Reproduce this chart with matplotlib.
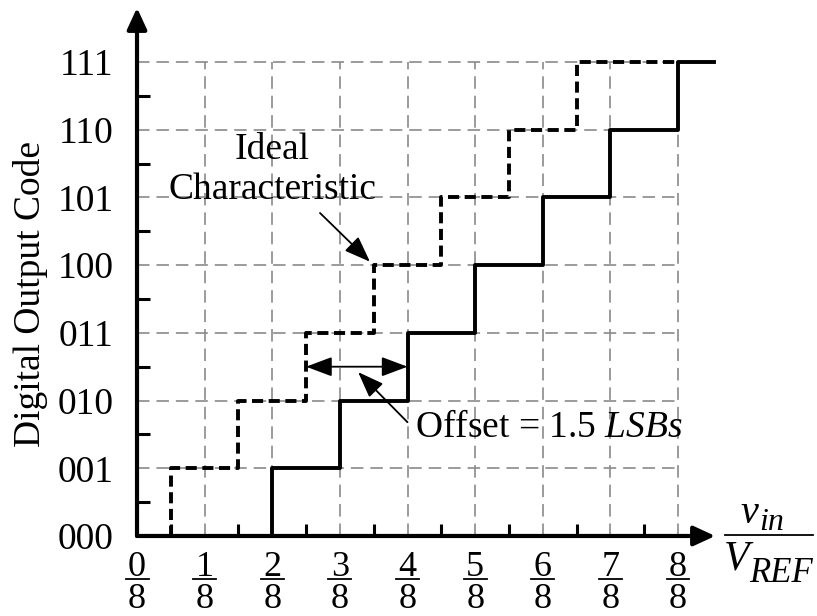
import matplotlib
matplotlib.use('Agg')
import matplotlib.pyplot as plt
import numpy as np

plt.rcParams['font.family'] = ['Liberation Serif', 'DejaVu Serif']
plt.rcParams['mathtext.fontset'] = 'custom'
plt.rcParams['mathtext.rm'] = 'Liberation Serif'
plt.rcParams['mathtext.it'] = 'Liberation Serif:italic'
plt.rcParams['mathtext.fallback'] = 'stix'
plt.rcParams['lines.scale_dashes'] = False

# 3-bit ADC transfer characteristic (x in units of VREF/8)
codes = ['000', '001', '010', '011', '100', '101', '110', '111']
ideal_steps = [0.5, 1.5, 2.5, 3.5, 4.5, 5.5, 6.5]   # ideal transition points
actual_steps = [2, 3, 4, 5, 6, 7, 8]               # with 1.5 LSB offset
x_full = 8                                         # full scale, 8/8
x_end = 8.53                                       # where the actual curve is cut off
frac_num = ['0', '1', '2', '3', '4', '5', '6', '7', '8']

levels = list(range(len(codes)))

fig = plt.figure(figsize=(8.17, 6.16), dpi=100)
ax = fig.add_axes([0.1677, 0.1299, 0.7201, 0.8684])
ax.set_xlim(0, 8.7)
ax.set_ylim(0, 7.9)
for s in ax.spines.values():
    s.set_visible(False)

# dashed grid, only inside the 8x7 box
grid_kw = dict(colors='#8a8a8a', lw=1.2, linestyles=(0, (9, 5)), zorder=1)
ax.hlines(levels[1:], 0, x_full, **grid_kw)
ax.vlines(range(1, x_full + 1), 0, levels[-1], **grid_kw)

# ideal (dashed) and actual (solid) staircases
ax.step([0] + ideal_steps + [x_full], levels + [levels[-1]], where='post',
        color='k', lw=2.8, linestyle=(0, (8, 4)), zorder=3)
ax.step([0] + actual_steps + [x_end], levels + [levels[-1]], where='post',
        color='k', lw=2.8, zorder=3)

# axes with arrow heads
arr = dict(arrowstyle='-|>,head_length=1.3,head_width=0.6', mutation_scale=10,
           lw=3, color='k', shrinkA=0, shrinkB=0)
ax.annotate('', xy=(8.55, 0), xytext=(0, 0), arrowprops=arr,
            annotation_clip=False, zorder=5)
ax.annotate('', xy=(0, 7.80), xytext=(0, 0), arrowprops=arr,
            annotation_clip=False, zorder=5)

# ticks
ax.set_yticks(levels)
ax.set_yticklabels(codes, fontsize=27)
ax.set_xticks(range(x_full + 1))
ax.set_xticklabels([])
ax.set_xticks(np.arange(0.5, x_full, 1), minor=True)
ax.set_yticks(np.arange(0.5, levels[-1], 1), minor=True)
ax.tick_params(which='major', length=0, pad=17)
ax.tick_params(which='minor', direction='in', length=9, width=2.2, color='k')

# fraction tick labels k/8
for k, num in enumerate(frac_num):
    ax.text(k, -0.585, num, fontsize=26, ha='center', va='baseline')
    ax.text(k, -1.06, '8', fontsize=26, ha='center', va='baseline')
    ax.plot([k - 0.17, k + 0.17], [-0.635, -0.635], color='k', lw=1.3,
            clip_on=False)

# x axis label vin / VREF
ax.text(8.917, 0.192, 'v', fontsize=29, style='italic', ha='left', va='baseline')
ax.text(9.2, 0.089, 'in', fontsize=23, style='italic', ha='left', va='baseline')
ax.plot([8.69, 10.0], [0.015, 0.015], color='k', lw=1.3, clip_on=False)
ax.text(8.68, -0.502, 'V', fontsize=30, style='italic', ha='left', va='baseline')
ax.text(9.06, -0.68, 'REF', fontsize=25, style='italic', ha='left', va='baseline')

ax.set_ylabel('Digital Output Code', fontsize=27)
ax.yaxis.set_label_coords(-0.151, 0.452)

# annotations
thin = dict(arrowstyle='-|>,head_length=1.6,head_width=0.6', mutation_scale=10,
            lw=1.3, color='k', shrinkA=0, shrinkB=0)
ax.text(2.0, 5.41, 'Ideal\nCharacteristic', fontsize=27, ha='center',
        va='center', linespacing=1.2)
ax.annotate('', xy=(3.445, 4.05), xytext=(2.706, 4.77), arrowprops=thin)

ax.annotate('', xy=(ideal_steps[2], 2.5), xytext=(actual_steps[2], 2.5),
            arrowprops=dict(arrowstyle='<|-|>,head_length=1.6,head_width=0.6',
                            mutation_scale=10, lw=1.3, color='k',
                            shrinkA=0, shrinkB=0))
ax.annotate('', xy=(3.27, 2.42), xytext=(4.0, 1.68), arrowprops=thin)
ax.text(4.11, 1.595, r'Offset = 1.5 $LSBs$', fontsize=27, ha='left',
        va='center')

fig.savefig('out.png', dpi=100)
